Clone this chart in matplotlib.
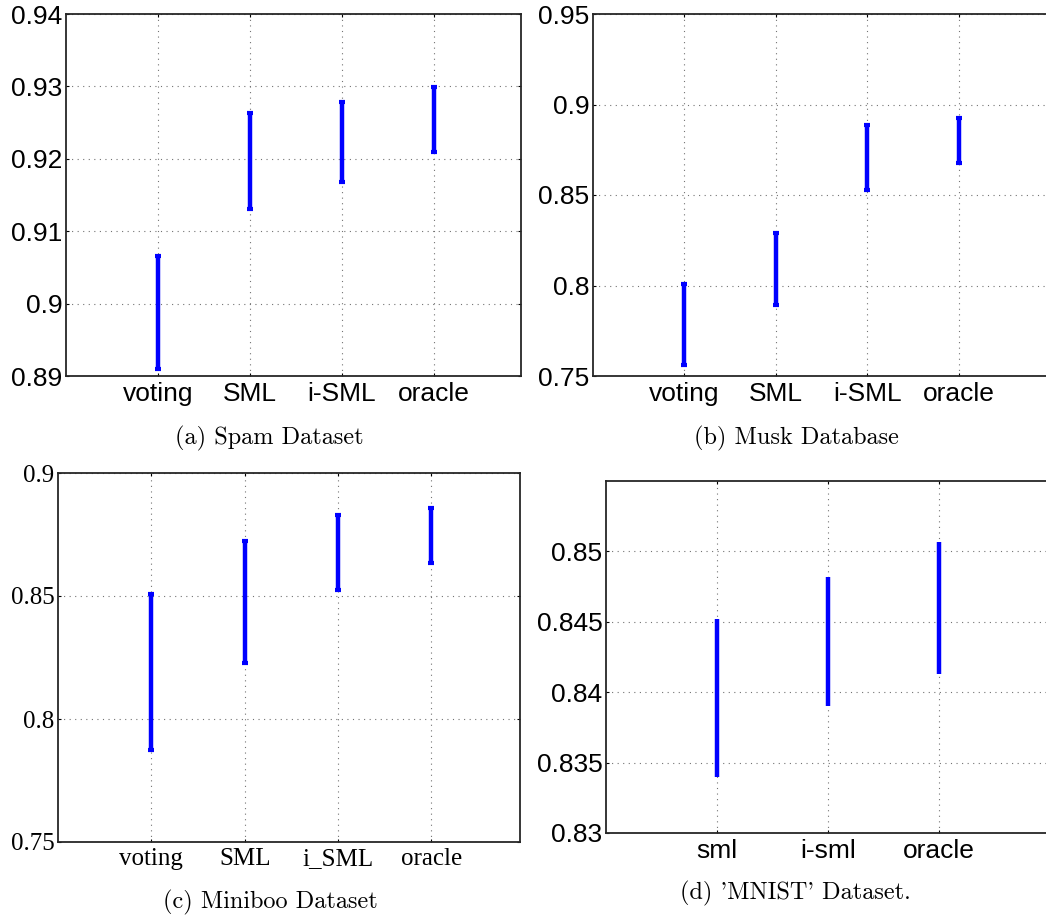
import matplotlib
matplotlib.use('Agg')
import matplotlib.pyplot as plt
import numpy as np

# ranges (low, high end of each bar)
labels_a = ['voting', 'SML', 'i-SML', 'oracle']
lo_a = [0.8910, 0.9131, 0.9168, 0.9210]
hi_a = [0.9066, 0.9263, 0.9278, 0.9299]
yticks_a = ['0.89', '0.9', '0.91', '0.92', '0.93', '0.94']

labels_b = ['voting', 'SML', 'i-SML', 'oracle']
lo_b = [0.7561, 0.7890, 0.8526, 0.8677]
hi_b = [0.8006, 0.8288, 0.8885, 0.8925]
yticks_b = ['0.75', '0.8', '0.85', '0.9', '0.95']

labels_c = ['voting', 'SML', 'i_SML', 'oracle']
lo_c = [0.7874, 0.8226, 0.8526, 0.8636]
hi_c = [0.8510, 0.8724, 0.8831, 0.8858]
yticks_c = ['0.75', '0.8', '0.85', '0.9']

labels_d = ['sml', 'i-sml', 'oracle']
lo_d = [0.8340, 0.8390, 0.8413]
hi_d = [0.8452, 0.8482, 0.8507]
yticks_d = ['0.83', '0.835', '0.84', '0.845', '0.85']

captions = ['(a) Spam Dataset', '(b) Musk Database',
            '(c) Miniboo Dataset', "(d) 'MNIST' Dataset."]

W, H = 1046, 917
fig = plt.figure(figsize=(W / 100, H / 100), dpi=100)


def px_box(left, top, right, bottom):
    return [left / W, 1 - bottom / H, (right - left) / W, (bottom - top) / H]


def panel(box, labels, lo, hi, yticks, ylim, xmax, font, fsize, caps=True):
    ax = fig.add_axes(box)
    lo = np.array(lo)
    hi = np.array(hi)
    x = np.arange(1, len(labels) + 1)
    ax.errorbar(x, (lo + hi) / 2, yerr=(hi - lo) / 2, fmt='none', ecolor='#0000ff',
                elinewidth=3.2, capsize=2.5 if caps else 0, capthick=3)
    ax.set_xlim(0, xmax)
    ax.set_ylim(*ylim)
    ax.set_xticks(x)
    ax.set_xticklabels(labels, family=font, fontsize=fsize)
    ax.set_yticks([float(t) for t in yticks])
    ax.set_yticklabels(yticks, family=font, fontsize=fsize)
    ax.grid(True, linestyle=(0, (1, 4)), color='0.45', linewidth=0.8)
    ax.tick_params(direction='in', length=2, width=0.8, top=True, right=True, pad=2.5)
    ax.tick_params(axis='x', pad=4)
    for s in ax.spines.values():
        s.set_linewidth(1.3)
        s.set_color('0.15')
    return ax


panel(px_box(66, 14, 521, 376), labels_a, lo_a, hi_a, yticks_a, (0.89, 0.94), 4.95,
      'Liberation Sans', 19)
panel(px_box(593, 14, 1050, 376), labels_b, lo_b, hi_b, yticks_b, (0.75, 0.95), 5,
      'Liberation Sans', 19)
panel(px_box(58, 473, 520, 842), labels_c, lo_c, hi_c, yticks_c, (0.75, 0.9), 4.95,
      'Liberation Serif', 18)
panel(px_box(606, 481, 1050, 833), labels_d, lo_d, hi_d, yticks_d, (0.83, 0.855), 4,
      'Liberation Sans', 19, caps=False)

cap_pos = [(269, 438), (796, 438), (270, 902), (795, 893)]
for (cx, cy), txt in zip(cap_pos, captions):
    fig.text(cx / W, 1 - cy / H, txt, ha='center', va='center',
             family=['cmr10', 'DejaVu Serif'], fontsize=17.5)

fig.savefig('out.png', dpi=100)
